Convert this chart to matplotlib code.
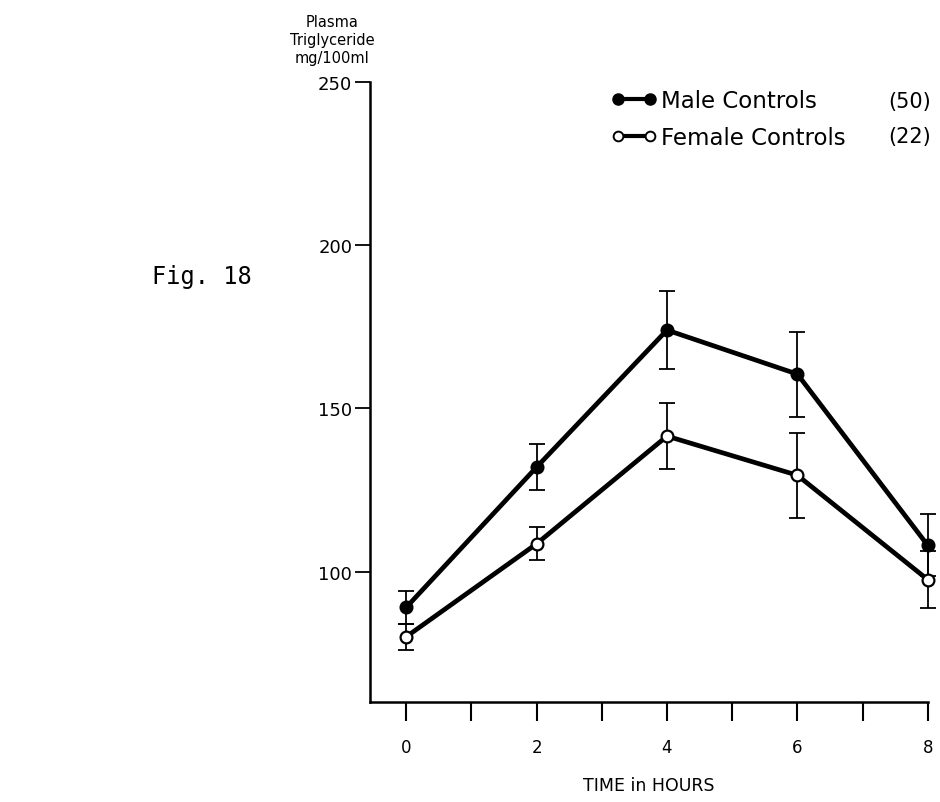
import matplotlib
matplotlib.use("Agg")
import matplotlib.pyplot as plt
from matplotlib.lines import Line2D

# values
hours = [0, 2, 4, 6, 8]
male_tg = [89, 132, 174, 160.5, 108]
male_err = [5, 7, 12, 13, 9.5]
female_tg = [80, 108.5, 141.5, 129.5, 97.5]
female_err = [4, 5, 10, 13, 8.7]

group_names = ["Male Controls", "Female Controls"]
group_n = ["(50)", "(22)"]
y_ticks = [100, 150, 200, 250]
x_major = [0, 2, 4, 6, 8]
x_minor = [1, 3, 5, 7]

FONT = "DejaVu Sans"

fig = plt.figure(figsize=(9.4, 8.03), dpi=100)
ax = fig.add_axes([0.394, 0.1245, 0.593, 0.772])

for y, err, filled in [(male_tg, male_err, True), (female_tg, female_err, False)]:
    ax.errorbar(hours, y, yerr=err, fmt="none", ecolor="black", elinewidth=1.3,
                capsize=6, capthick=1.3, zorder=2, clip_on=False)
    ax.plot(hours, y, color="black", lw=3.4, zorder=3, clip_on=False,
            solid_capstyle="butt")
    ax.plot(hours, y, ls="none", marker="o", ms=8.5,
            mfc="black" if filled else "white", mec="black", mew=1.6,
            zorder=4, clip_on=False)

ax.set_xlim(-0.55, 8)
ax.set_ylim(60, 250)

for side in ["top", "right"]:
    ax.spines[side].set_visible(False)
ax.spines["left"].set_linewidth(1.8)
ax.spines["bottom"].set_linewidth(1.8)

ax.set_yticks(y_ticks)
ax.set_yticklabels([str(v) for v in y_ticks], fontsize=13, family=FONT)
ax.tick_params(axis="y", direction="out", length=11, width=1.3, pad=2)

ax.set_xticks(x_major)
ax.set_xticklabels([str(v) for v in x_major], fontsize=12, family=FONT)
ax.set_xticks(x_minor, minor=True)
ax.tick_params(axis="x", which="both", direction="out", length=14, width=1.5, pad=12)

ax.set_xlabel("TIME in HOURS", fontsize=12.5, family=FONT, labelpad=14)

fig.text(332 / 940, 1 - 15 / 803, "Plasma\nTriglyceride\nmg/100ml", ha="center",
         va="top", fontsize=10.5, family=FONT, linespacing=1.25)

fig.text(152 / 940, 1 - 277 / 803, "Fig. 18", ha="left", va="center",
         fontsize=17, family="DejaVu Sans Mono")

handles = [
    Line2D([0, 1], [0, 0], color="black", lw=3, marker="o", ms=8,
           mfc="black", mec="black"),
    Line2D([0, 1], [0, 0], color="black", lw=3, marker="o", ms=7,
           mfc="white", mec="black", mew=1.4),
]
ax.legend(handles, group_names, loc="upper left", numpoints=2,
          bbox_to_anchor=(611 / 940, 1 - 90 / 803), bbox_transform=fig.transFigure,
          frameon=False, borderpad=0, borderaxespad=0, handlelength=2.0,
          handletextpad=0.2, labelspacing=0.62,
          prop={"family": FONT, "size": 16.5})

for i, n in enumerate(group_n):
    fig.text(931 / 940, 1 - (102 + 35 * i) / 803, n, ha="right", va="center",
             fontsize=15, family=FONT)

fig.savefig("out.png", dpi=100)
